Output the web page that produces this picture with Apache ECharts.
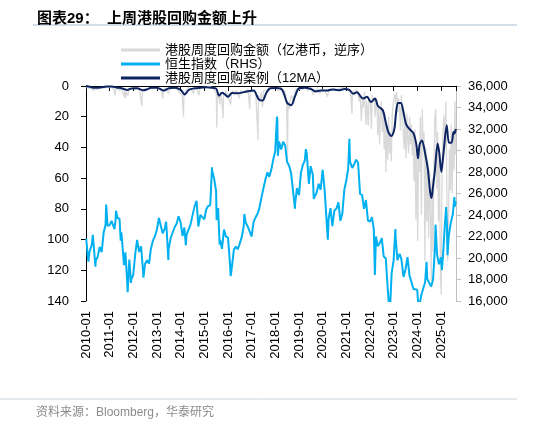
<!DOCTYPE html>
<html>
<head>
<meta charset="utf-8">
<script src="https://cdn.jsdelivr.net/npm/echarts@6/dist/echarts.min.js"></script>
<style>
html,body{margin:0;padding:0;background:#fff;}
#c{width:534px;height:425px;}
</style>
</head>
<body>
<div id="c"></div>
<script>
// ---- DATA ----
const yearTicks = ['2010','2011','2012','2013','2014','2015','2016','2017','2018','2019','2020','2021','2022','2023','2024','2025'];

// weekly buyback amount (亿港币), sampled
const buybackWeekly = [
['2010-01-08',1],['2010-02-05',0.5],['2010-03-05',1.5],['2010-04-02',2],['2010-05-07',3],['2010-05-28',1],['2010-06-18',2.5],['2010-07-09',1],['2010-08-06',2],['2010-09-03',1],['2010-10-01',0.5],['2010-11-05',1],['2010-12-03',0.5],
['2011-01-07',0.5],['2011-02-04',1],['2011-03-04',2],['2011-03-25',6],['2011-04-08',1],['2011-05-06',2],['2011-06-03',3],['2011-06-24',1],['2011-07-15',2],['2011-08-12',7],['2011-08-19',3],['2011-09-02',8],['2011-09-16',4],['2011-10-07',6],['2011-10-28',2],['2011-11-18',3],['2011-12-09',1.5],
['2012-01-06',1],['2012-02-03',1],['2012-03-02',2],['2012-04-06',3],['2012-05-11',13],['2012-05-18',4],['2012-06-08',2],['2012-07-06',1],['2012-08-03',2],['2012-09-07',1],['2012-10-05',1],['2012-11-02',2],['2012-12-07',1],
['2013-01-04',1],['2013-02-01',2],['2013-03-08',3],['2013-03-29',8],['2013-04-12',3],['2013-05-10',1],['2013-06-07',2],['2013-06-28',5],['2013-07-19',1],['2013-08-16',2],['2013-09-13',1],['2013-10-11',1],['2013-11-08',2],['2013-12-06',4],
['2014-01-03',3],['2014-01-24',6],['2014-02-14',20],['2014-02-21',5],['2014-03-14',3],['2014-04-04',2],['2014-05-02',1],['2014-06-06',2],['2014-07-18',5],['2014-08-01',1],['2014-09-05',2],['2014-10-10',6],['2014-10-24',1],['2014-11-14',2],['2014-12-12',1],
['2015-01-09',1],['2015-02-06',0.5],['2015-03-06',1],['2015-04-03',0.5],['2015-05-08',1],['2015-06-05',1],['2015-07-03',5],['2015-07-10',27],['2015-07-17',8],['2015-08-07',6],['2015-08-28',12],['2015-09-04',4],['2015-09-25',9],['2015-10-16',21],['2015-10-23',4],['2015-11-13',6],['2015-12-04',3],['2015-12-25',4],
['2016-01-08',8],['2016-01-22',10],['2016-02-12',12],['2016-02-26',5],['2016-03-18',3],['2016-04-08',6],['2016-05-06',3],['2016-06-03',5],['2016-06-24',8],['2016-07-15',3],['2016-08-12',2],['2016-09-09',4],['2016-10-07',3],['2016-11-04',2],['2016-12-02',15],['2016-12-09',3],
['2017-01-06',2],['2017-02-03',3],['2017-03-03',5],['2017-04-07',35],['2017-04-14',6],['2017-05-05',10],['2017-05-26',4],['2017-06-16',14],['2017-06-30',3],['2017-07-21',2],['2017-08-18',3],['2017-09-15',1],['2017-10-13',2],['2017-11-10',1],['2017-12-08',2],
['2018-01-05',1],['2018-02-09',3],['2018-03-09',2],['2018-04-06',1],['2018-05-04',2],['2018-06-01',4],['2018-06-22',12],['2018-07-06',48],['2018-07-13',10],['2018-08-03',15],['2018-08-17',8],['2018-09-07',6],['2018-10-12',12],['2018-10-26',4],['2018-11-16',2],['2018-12-14',3],
['2019-01-04',2],['2019-02-01',1],['2019-03-01',2],['2019-04-05',1],['2019-05-10',3],['2019-06-07',2],['2019-07-05',1],['2019-08-09',6],['2019-08-23',3],['2019-09-20',4],['2019-10-18',2],['2019-11-15',5],['2019-12-13',2],
['2020-01-10',1],['2020-02-07',3],['2020-03-13',7],['2020-03-27',4],['2020-04-17',2],['2020-05-15',3],['2020-06-12',2],['2020-07-10',1],['2020-08-07',3],['2020-09-04',2],['2020-10-09',1],['2020-11-06',2],['2020-12-04',1],
['2021-01-08',2],['2021-02-05',1],['2021-03-05',4],['2021-03-26',18],['2021-04-02',5],['2021-04-23',3],['2021-05-14',6],['2021-06-04',2],['2021-06-25',4],['2021-07-16',10],['2021-07-30',6],['2021-08-20',23],['2021-09-03',8],['2021-09-17',14],['2021-10-08',4],['2021-10-29',25],['2021-11-12',10],['2021-12-03',26],['2021-12-17',8],
['2022-01-07',12],['2022-01-21',28],['2022-02-04',6],['2022-02-18',10],['2022-03-04',8],['2022-03-18',20],['2022-04-01',12],['2022-04-15',8],['2022-04-29',32],['2022-05-13',14],['2022-05-27',38],['2022-06-10',18],['2022-06-24',10],['2022-07-08',30],['2022-07-22',15],['2022-08-05',41],['2022-08-19',20],['2022-09-02',56],['2022-09-16',25],['2022-09-30',48],['2022-10-14',20],['2022-10-28',44],['2022-11-11',30],['2022-11-25',49],['2022-12-09',18],['2022-12-23',12],
['2023-01-06',8],['2023-01-20',5],['2023-02-03',12],['2023-02-17',4],['2023-03-03',17],['2023-03-17',8],['2023-03-31',15],['2023-04-14',29],['2023-04-28',6],['2023-05-12',18],['2023-05-26',30],['2023-06-09',41],['2023-06-23',22],['2023-07-07',47],['2023-07-21',18],['2023-08-04',35],['2023-08-18',44],['2023-09-01',20],['2023-09-15',38],['2023-09-29',25],['2023-10-13',45],['2023-10-27',30],['2023-11-10',62],['2023-11-24',28],['2023-12-08',87],['2023-12-22',40],
['2024-01-05',101],['2024-01-19',45],['2024-02-02',56],['2024-02-16',20],['2024-03-01',84],['2024-03-15',15],['2024-03-29',40],['2024-04-12',30],['2024-04-26',114],['2024-05-10',40],['2024-05-24',88],['2024-06-07',50],['2024-06-21',99],['2024-07-05',55],['2024-07-19',80],['2024-08-02',127],['2024-08-16',60],['2024-08-30',108],['2024-09-13',50],['2024-09-27',20],['2024-10-11',15],['2024-10-25',67],['2024-11-08',30],['2024-11-22',88],['2024-12-06',45],['2024-12-20',119],
['2025-01-03',136],['2025-01-17',52],['2025-01-31',30],['2025-02-14',19],['2025-02-28',40],['2025-03-14',10],['2025-03-28',61],['2025-04-11',114],['2025-04-25',88],['2025-05-09',41],['2025-05-23',68],['2025-06-06',25],['2025-06-20',70],['2025-07-04',30],['2025-07-18',55],['2025-08-01',10],['2025-08-15',45]
];

// 12-week moving average of buybacks
const buybackMA = [
['2010-01-01',0],['2010-03-01',0.5],['2010-04-15',1.1],['2010-07-01',1.2],['2010-09-01',0.8],['2010-11-15',0.3],['2011-02-01',0.3],['2011-04-15',1.0],['2011-07-01',1.5],['2011-10-01',2.6],['2011-12-01',1.6],
['2012-03-01',1.5],['2012-06-01',2.8],['2012-08-01',2.2],['2012-10-01',1.2],['2013-01-01',1.1],['2013-04-15',3.0],['2013-07-01',1.5],['2013-10-01',1.1],
['2014-01-01',2.5],['2014-03-01',5.6],['2014-05-01',2.6],['2014-08-01',1.5],['2014-11-01',1.2],['2015-02-01',0.8],['2015-05-01',1.2],['2015-07-01',1.7],['2015-08-15',6.2],['2015-10-01',4.4],['2015-11-15',5.5],
['2016-01-01',7.0],['2016-03-01',4.5],['2016-06-01',4.8],['2016-09-01',4],['2016-12-01',3.2],['2017-02-01',3],['2017-04-15',8.5],['2017-06-15',9.5],['2017-08-15',4.4],['2017-10-15',1.5],
['2018-01-15',1.3],['2018-04-15',2.5],['2018-07-01',11],['2018-09-01',12.5],['2018-11-01',6.5],['2019-01-01',1.5],['2019-04-01',1.2],['2019-07-01',2],['2019-09-15',3.5],['2019-12-01',3],
['2020-03-01',3],['2020-06-01',2.2],['2020-09-01',2.8],['2020-12-01',2],['2021-02-15',2.5],['2021-04-15',5],['2021-06-15',4],['2021-08-01',6.5],['2021-09-15',8.2],['2021-11-15',7],
['2022-01-15',10.4],['2022-03-15',8.2],['2022-05-01',13],['2022-07-15',15.8],['2022-09-01',24],['2022-10-10',30],['2022-11-25',32.5],['2023-01-10',28],['2023-02-05',18],['2023-03-05',11],['2023-04-20',11],['2023-05-25',16],['2023-07-10',25],['2023-09-10',28.5],['2023-10-30',30.5],['2023-12-15',38],
['2024-01-10',47],['2024-02-05',38],['2024-03-10',35.5],['2024-04-25',43],['2024-06-10',54],['2024-07-15',69],['2024-08-05',73],['2024-08-25',67],['2024-09-25',56],['2024-11-10',37.5],['2024-12-05',44],
['2025-01-05',56],['2025-02-05',45],['2025-03-28',25.5],['2025-05-01',37],['2025-06-10',37],['2025-07-10',30],['2025-07-25',31],['2025-08-15',28]
];

// Hang Seng Index
const hsi = [
['2010-01-04',21823],['2010-01-29',20122],['2010-02-08',19665],['2010-02-26',20609],['2010-03-31',21239],['2010-04-15',22150],['2010-04-30',21108],['2010-05-25',19200],['2010-05-31',19765],['2010-06-30',20129],['2010-07-30',21030],['2010-08-31',20536],['2010-09-30',22359],['2010-10-29',23096],['2010-11-08',24964],['2010-11-30',23008],['2010-12-31',23035],
['2011-01-31',23447],['2011-02-28',23338],['2011-03-15',22678],['2011-03-31',23528],['2011-04-08',24396],['2011-04-29',23720],['2011-05-31',23684],['2011-06-20',21600],['2011-06-30',22398],['2011-07-29',22440],['2011-08-09',19331],['2011-08-31',20535],['2011-09-30',17592],['2011-10-04',16822],['2011-10-31',19864],['2011-11-25',17689],['2011-11-30',17989],['2011-12-30',18434],
['2012-01-31',20390],['2012-02-29',21680],['2012-03-30',20556],['2012-04-30',21095],['2012-05-31',18630],['2012-06-04',18185],['2012-06-29',19441],['2012-07-31',19796],['2012-08-31',19482],['2012-09-28',20840],['2012-10-31',21642],['2012-11-30',22030],['2012-12-31',22657],
['2013-01-31',23730],['2013-02-28',23020],['2013-03-28',22300],['2013-04-30',22737],['2013-05-20',23366],['2013-05-31',22392],['2013-06-24',19814],['2013-06-28',20803],['2013-07-31',21883],['2013-08-30',21731],['2013-09-30',22860],['2013-10-31',23206],['2013-11-29',23881],['2013-12-31',23306],
['2014-01-30',22035],['2014-02-28',22837],['2014-03-20',21182],['2014-03-31',22151],['2014-04-30',22134],['2014-05-30',23082],['2014-06-30',23190],['2014-07-31',24757],['2014-08-29',24742],['2014-09-03',25318],['2014-09-30',22933],['2014-10-31',23998],['2014-11-28',23987],['2014-12-31',23605],
['2015-01-30',24507],['2015-02-27',24823],['2015-03-31',24901],['2015-04-28',28443],['2015-04-30',28133],['2015-05-29',27424],['2015-06-30',26250],['2015-07-08',23516],['2015-07-31',24636],['2015-08-24',21252],['2015-08-31',21670],['2015-09-30',20846],['2015-10-30',22640],['2015-11-30',21996],['2015-12-31',21914],
['2016-01-29',19683],['2016-02-12',18320],['2016-02-29',19112],['2016-03-31',20777],['2016-04-29',21067],['2016-05-31',20815],['2016-06-30',20794],['2016-07-29',21891],['2016-08-31',22977],['2016-09-09',24099],['2016-09-30',23297],['2016-10-31',22935],['2016-11-30',22790],['2016-12-30',22001],
['2017-01-31',23361],['2017-02-28',23741],['2017-03-31',24112],['2017-04-28',24615],['2017-05-31',25661],['2017-06-30',25765],['2017-07-31',27324],['2017-08-31',27970],['2017-09-29',27554],['2017-10-31',28246],['2017-11-30',29177],['2017-12-29',29919],
['2018-01-26',33154],['2018-01-31',32887],['2018-02-09',29507],['2018-02-28',30845],['2018-03-29',30093],['2018-04-30',30808],['2018-05-31',30469],['2018-06-29',28955],['2018-07-31',28583],['2018-08-31',27889],['2018-09-28',27789],['2018-10-30',24586],['2018-10-31',24980],['2018-11-30',26507],['2018-12-31',25846],
['2019-01-31',27942],['2019-02-28',28633],['2019-03-29',29051],['2019-04-15',30130],['2019-04-30',29699],['2019-05-31',26901],['2019-06-28',28543],['2019-07-31',27778],['2019-08-15',25495],['2019-08-30',25725],['2019-09-30',26092],['2019-10-31',26907],['2019-11-29',26346],['2019-12-31',28190],
['2020-01-31',26313],['2020-02-28',26130],['2020-03-19',21709],['2020-03-31',23603],['2020-04-30',24644],['2020-05-29',22961],['2020-06-30',24427],['2020-07-31',24595],['2020-08-31',25177],['2020-09-30',23459],['2020-10-30',24107],['2020-11-30',26341],['2020-12-31',27231],
['2021-01-29',28284],['2021-02-17',31084],['2021-02-26',28980],['2021-03-31',28378],['2021-04-30',28725],['2021-05-31',29151],['2021-06-30',28828],['2021-07-30',25961],['2021-08-31',25879],['2021-09-30',24576],['2021-10-29',25377],['2021-11-30',23475],['2021-12-31',23398],
['2022-01-31',23802],['2022-02-28',22713],['2022-03-15',18415],['2022-03-31',21997],['2022-04-29',21089],['2022-05-31',21415],['2022-06-30',21860],['2022-07-29',20157],['2022-08-31',19955],['2022-09-30',17223],['2022-10-24',15180],['2022-10-31',14687],['2022-11-30',18597],['2022-12-30',19781],
['2023-01-27',22689],['2023-01-31',21842],['2023-02-28',19786],['2023-03-31',20400],['2023-04-28',19895],['2023-05-31',18234],['2023-06-30',18916],['2023-07-31',20079],['2023-08-31',18382],['2023-09-29',17810],['2023-10-31',17112],['2023-11-30',17043],['2023-12-29',17047],
['2024-01-22',14961],['2024-01-31',15485],['2024-02-29',16511],['2024-03-28',16541],['2024-04-30',17763],['2024-05-20',19636],['2024-05-31',18080],['2024-06-28',17719],['2024-07-31',17345],['2024-08-30',17989],['2024-09-30',21134],['2024-10-07',23100],['2024-10-31',20317],['2024-11-29',19424],['2024-12-31',20060],
['2025-01-13',18874],['2025-01-31',20225],['2025-02-28',22941],['2025-03-18',24740],['2025-03-31',23120],['2025-04-09',20264],['2025-04-30',22119],['2025-05-30',23290],['2025-06-30',24072],['2025-07-24',25667],['2025-07-31',24773],['2025-08-15',25270]
];

const seriesNames = ['港股周度回购金额（亿港币，逆序）','恒生指数（RHS）','港股周度回购案例（12MA）'];
const titleText = '图表29：  上周港股回购金额上升';
const sourceText = '资料来源：Bloomberg，华泰研究';

// ---- helpers ----
function toYear(s){
  const p = s.split('-').map(Number);
  return p[0] + ((p[1]-1) + (p[2]-1)/31)/12;
}
function conv(arr){ return arr.map(d => [toYear(d[0]), d[1]]); }

const FONT = '"Liberation Sans", Arial, "Noto Sans CJK SC", sans-serif';
const C_GRAY = '#d9d9d9', C_BLUE = '#00b0f0', C_NAVY = '#0c2461';

const chart = echarts.init(document.getElementById('c'), null, {renderer:'canvas'});
chart.setOption({
  animation:false,
  backgroundColor:'#fff',
  textStyle:{fontFamily:FONT},
  title:[
    {text:titleText, left:32, top:6, textStyle:{fontSize:15, fontWeight:'bold', color:'#000', fontFamily:FONT}},
    {text:sourceText, left:31, top:402, textStyle:{fontSize:12, fontWeight:'normal', color:'#8c8c8c', fontFamily:FONT}}
  ],
  graphic:[
    {type:'line', shape:{x1:33,y1:25,x2:517,y2:25}, style:{stroke:'#a9bfd6', lineWidth:1}},
    {type:'line', shape:{x1:0,y1:399,x2:517,y2:399}, style:{stroke:'#c9d3dd', lineWidth:1}}
  ],
  legend:{
    orient:'vertical', left:116, top:38, itemGap:0, itemWidth:39, itemHeight:3,
    icon:'rect',
    textStyle:{fontSize:13, color:'#000', fontFamily:FONT, lineHeight:14},
    data:[
      {name:seriesNames[0], itemStyle:{color:C_GRAY}},
      {name:seriesNames[1], itemStyle:{color:C_BLUE}},
      {name:seriesNames[2], itemStyle:{color:C_NAVY}}
    ]
  },
  grid:{left:86, right:78, top:86, bottom:124, containLabel:false, outerBoundsMode:'none'},
  xAxis:{
    type:'value', min:2010, max:2025.63, interval:1,
    axisLine:{lineStyle:{color:'#000', width:1}},
    axisTick:{show:true, length:5, lineStyle:{color:'#000'}},
    splitLine:{show:false},
    axisLabel:{rotate:90, fontSize:13, color:'#000', margin:10,
      formatter:v => { const y = String(Math.round(v)); return (Math.abs(v-Math.round(v))<1e-6 && yearTicks.indexOf(y)>=0) ? y+'-01' : ''; }}
  },
  yAxis:[
    {type:'value', inverse:true, min:0, max:140, interval:20, position:'left',
     axisLine:{show:true, lineStyle:{color:'#000'}},
     axisTick:{show:true, length:5, lineStyle:{color:'#000'}},
     splitLine:{show:false},
     axisLabel:{fontSize:13, color:'#000', margin:17}},
    {type:'value', min:16000, max:36000, interval:2000, position:'right',
     axisLine:{show:true, lineStyle:{color:'#bfbfbf'}},
     axisTick:{show:true, length:5, lineStyle:{color:'#bfbfbf'}},
     splitLine:{show:false},
     axisLabel:{fontSize:13, color:'#000', margin:12, formatter:v=>v.toLocaleString('en-US')}}
  ],
  series:[
    {name:seriesNames[0], type:'line', yAxisIndex:0, data:conv(buybackWeekly), showSymbol:false, symbol:'none',
     lineStyle:{color:C_GRAY, width:1.3}, itemStyle:{color:C_GRAY}, z:1},
    {name:seriesNames[1], type:'line', yAxisIndex:1, data:conv(hsi), showSymbol:false, symbol:'none',
     lineStyle:{color:C_BLUE, width:2}, itemStyle:{color:C_BLUE}, z:2},
    {name:seriesNames[2], type:'line', yAxisIndex:0, data:conv(buybackMA), showSymbol:false, symbol:'none', smooth:0.3,
     lineStyle:{color:C_NAVY, width:2}, itemStyle:{color:C_NAVY}, z:3}
  ]
});
</script>
</body>
</html>
